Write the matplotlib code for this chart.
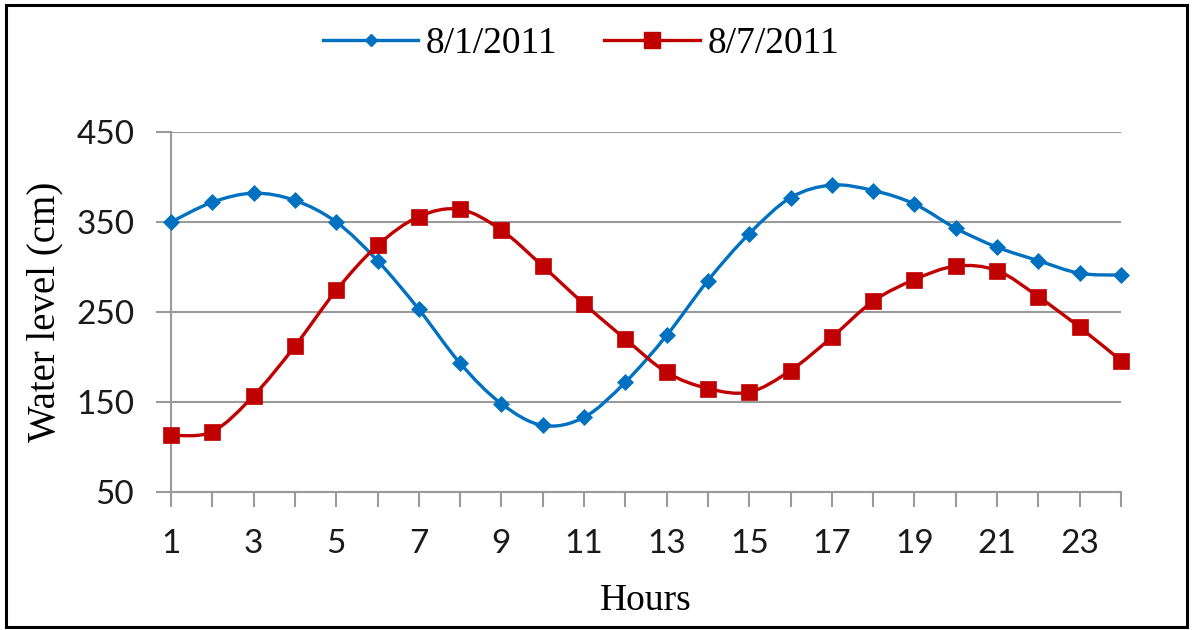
import numpy as np
import matplotlib
matplotlib.use('Agg')
import matplotlib.pyplot as plt
from matplotlib.path import Path
from matplotlib.patches import PathPatch, Rectangle
from matplotlib.lines import Line2D

hours = list(range(1, 25))
level_aug1 = [350, 372, 382, 374, 350, 307, 253, 193, 148, 124, 133, 172,
              224, 285, 337, 377, 391, 385, 370, 343, 322, 307, 293, 291]
level_aug7 = [113, 117, 157, 212, 274, 324, 356, 364, 341, 301, 259, 220,
              183, 165, 161, 185, 222, 262, 286, 301, 296, 267, 233, 196]
labels = ['8/1/2011', '8/7/2011']
y_ticks = [50, 150, 250, 350, 450]

BLUE = '#0070C0'
RED = '#C00000'
GRID = '#9A9A9A'
SERIF = 'Liberation Serif'
SANS = 'Lato'


def smooth_path(x, y):
    # cubic bezier segments through every point (catmull-rom style)
    pts = np.column_stack([x, y]).astype(float)
    n = len(pts)
    verts = [pts[0]]
    codes = [Path.MOVETO]
    for i in range(n - 1):
        p0 = pts[max(i - 1, 0)]
        p1 = pts[i]
        p2 = pts[i + 1]
        p3 = pts[min(i + 2, n - 1)]
        c1 = p1 + (p2 - p0) / 6.0
        c2 = p2 - (p3 - p1) / 6.0
        verts += [c1, c2, p2]
        codes += [Path.CURVE4] * 3
    return Path(verts, codes)


def draw_series(ax, x, y, color, marker, size):
    ax.add_patch(PathPatch(smooth_path(x, y), facecolor='none', edgecolor=color,
                           lw=2.4, zorder=3, clip_on=False))
    ax.plot(x, y, linestyle='none', marker=marker, ms=size, mfc=color, mec=color,
            mew=0.5, zorder=4, clip_on=False)


fig = plt.figure(figsize=(11.92, 6.3), dpi=100)
ax = fig.add_axes([171 / 1192, 138 / 630, 950 / 1192, 360 / 630])

draw_series(ax, hours, level_aug1, BLUE, 'D', 8.6)
draw_series(ax, hours, level_aug7, RED, 's', 11.5)

ax.set_xlim(1, 24)
ax.set_ylim(50, 450)
ax.set_xticks(hours)
ax.set_xticklabels([str(h) if h % 2 == 1 else '' for h in hours])
ax.set_yticks(y_ticks)

ax.grid(axis='y', color=GRID, lw=1.5)
ax.set_axisbelow(True)
for side in ['top', 'right']:
    ax.spines[side].set_visible(False)
for side in ['left', 'bottom']:
    ax.spines[side].set_color(GRID)
    ax.spines[side].set_linewidth(1.5)
ax.tick_params(axis='both', color=GRID, width=1.5, length=10.5)
ax.tick_params(axis='x', pad=16)
ax.tick_params(axis='y', pad=16)
for lab in ax.get_xticklabels() + ax.get_yticklabels():
    lab.set_fontfamily(SANS)
    lab.set_fontsize(24)
    lab.set_color('#1a1a1a')

ax.set_xlabel('Hours', fontfamily=SERIF, fontsize=27)
ax.xaxis.set_label_coords(0.5, -0.255)
ax.set_ylabel('Water level (cm)', fontfamily=SERIF, fontsize=28)
ax.yaxis.set_label_coords(-0.113, 0.5)

handles = [
    Line2D([], [], color=BLUE, lw=2.4, marker='D', ms=6.5, mfc=BLUE, mec=BLUE),
    Line2D([], [], color=RED, lw=2.4, marker='s', ms=11, mfc=RED, mec=RED),
]
fig.legend(handles, labels, loc='center', bbox_to_anchor=(581 / 1192, 1 - 44 / 630),
           ncol=2, frameon=False, prop={'family': SERIF, 'size': 27},
           handlelength=2.55, handletextpad=0.2, columnspacing=1.25)

# outer frame
fig.add_artist(Rectangle((6 / 1192, 3 / 630), 1181 / 1192, 622 / 630,
                         transform=fig.transFigure, fill=False, ec='black', lw=2.2))

fig.savefig('out.png', dpi=100)
